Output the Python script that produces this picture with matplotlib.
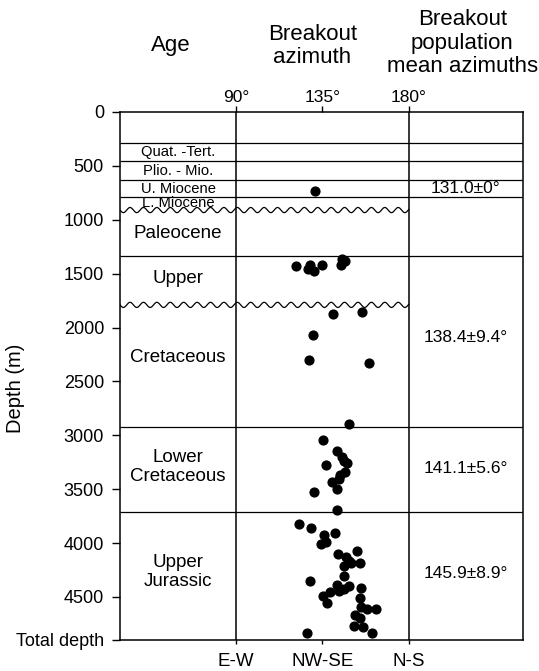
import numpy as np
import matplotlib.pyplot as plt

plt.rcParams['font.family'] = ['Liberation Sans', 'DejaVu Sans']

# breakout azimuths (deg) and depths (m)
azimuth = [131.0,
           121.4, 128.4, 127.5, 130.5, 134.9, 145.1, 146.8, 144.6,
           140.4, 155.6, 130.2, 128.1, 159.1, 148.7,
           135.4, 142.5, 145.1, 146.0, 147.8, 137.1, 146.6, 144.1, 143.5, 140.0,
           142.5, 130.7, 142.5,
           122.8, 129.0, 135.8, 141.6, 136.7, 134.1, 143.0, 153.0, 147.4, 148.6,
           150.1, 154.5, 146.0, 146.0, 128.4, 142.5, 149.1, 146.0, 143.5, 138.9,
           135.1, 155.3, 137.2, 154.5, 155.3, 158.3, 163.0, 152.1, 154.7, 151.7,
           156.1, 126.7, 160.9]
depth = [735,
         1432, 1417, 1454, 1476, 1423, 1368, 1386, 1417,
         1870, 1855, 2070, 2301, 2326, 2893,
         3041, 3142, 3201, 3241, 3256, 3278, 3343, 3373, 3410, 3435,
         3503, 3528, 3697,
         3826, 3863, 3925, 3906, 3986, 4011, 4103, 4073, 4134, 4165,
         4187, 4190, 4211, 4304, 4350, 4390, 4397, 4427, 4443, 4458,
         4495, 4415, 4560, 4510, 4590, 4612, 4612, 4667, 4695, 4766,
         4781, 4834, 4834]

total_depth = 4900
depth_ticks = [0, 500, 1000, 1500, 2000, 2500, 3000, 3500, 4000, 4500]

# stratigraphic boundaries
boundaries = [285, 455, 630, 790, 1335, 2925, 3715]
unconformities = [910, 1790]

# age labels
small_ages = ["Quat. -Tert.", "Plio. - Mio.", "U. Miocene", "L. Miocene"]
small_age_depth = [371, 550, 716, 840]
ages = ["Paleocene", "Upper", "Cretaceous", "Lower\nCretaceous", "Upper\nJurassic"]
age_depth = [1132, 1548, 2278, 3295, 4273]

# population means
means = ["131.0±0°", "138.4±9.4°", "141.1±5.6°", "145.9±8.9°"]
mean_depth = [707, 2093, 3304, 4281]

az_ticks = [90, 135, 180]
az_top = ["90°", "135°", "180°"]
az_bottom = ["E-W", "NW-SE", "N-S"]

x0, x1 = 29.3, 239.7
age_x = (x0 + 90) / 2
mean_x = (180 + x1) / 2

fig = plt.figure(figsize=(5.39, 6.71), dpi=100)
ax = fig.add_axes([120/539, 1 - 640/671, 403/539, 528/671])
ax.set_xlim(x0, x1)
ax.set_ylim(total_depth, 0)

for s in ax.spines.values():
    s.set_linewidth(1.1)

# column dividers and layer lines
ax.vlines([90, 180], 0, total_depth, color='k', lw=1.1)
ax.hlines(boundaries, x0, x1, color='k', lw=0.9)
xs = np.linspace(x0, 180, 800)
for d in unconformities:
    ax.plot(xs, d + 24*np.sin(2*np.pi*(xs - x0)/7.0), color='k', lw=0.9)

ax.scatter(azimuth, depth, s=40, color='k', zorder=3, clip_on=False)

for t, d in zip(small_ages, small_age_depth):
    ax.text(age_x, d, t, ha='center', va='center', fontsize=10.6)
for t, d in zip(ages, age_depth):
    ax.text(age_x, d, t, ha='center', va='center', fontsize=13.5, linespacing=1.15)
for t, d in zip(means, mean_depth):
    ax.text(mean_x, d, t, ha='center', va='center', fontsize=12.5)

# y axis
ax.set_yticks(depth_ticks + [total_depth],
              labels=[str(v) for v in depth_ticks] + ["Total depth"])
ax.tick_params(axis='y', direction='out', length=6, width=1.0, pad=5.5, labelsize=13)

# bottom and top azimuth axes
ax.set_xticks(az_ticks, labels=az_bottom)
ax.tick_params(axis='x', direction='out', length=3, width=1.0, pad=6, labelsize=13.5)
top = ax.secondary_xaxis('top')
top.set_xticks(az_ticks, labels=az_top)
top.tick_params(direction='out', length=4, width=1.0, pad=1, labelsize=12.5)
top.spines['top'].set_visible(False)

# column headings
ax.text(56, -617, "Age", ha='center', va='center', fontsize=16, clip_on=False)
ax.text(129.8, -612, "Breakout\nazimuth", ha='center', va='center',
        fontsize=16, linespacing=1.15, clip_on=False)
ax.text(208, -640, "Breakout\npopulation\nmean azimuths", ha='center', va='center',
        fontsize=16, linespacing=1.15, clip_on=False)

fig.text(16/539, 1 - 388/671, "Depth (m)", rotation=90, ha='center', va='center',
         fontsize=14.5)

fig.savefig("out.png", dpi=100)
